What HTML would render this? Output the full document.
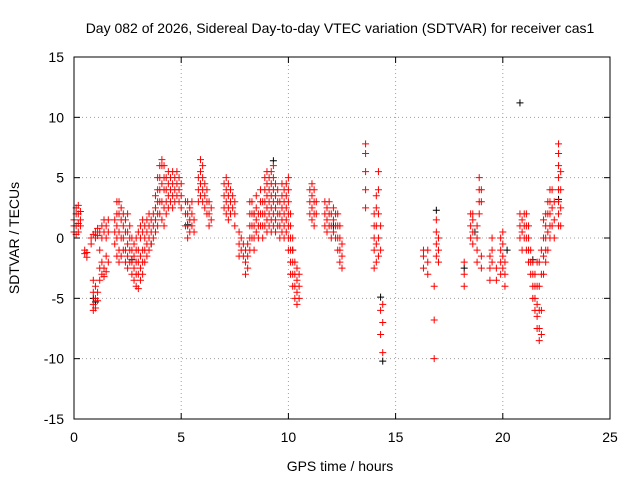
<!DOCTYPE html>
<html><head><meta charset="utf-8"><style>
body{margin:0;background:#fff;}
svg{display:block;font-family:"Liberation Sans",sans-serif;}
</style></head><body>
<svg id="chart" width="640" height="480" viewBox="0 0 640 480">
<rect width="640" height="480" fill="#fff"/>
<text x="340" y="33" font-size="14" text-anchor="middle">Day 082 of 2026, Sidereal Day-to-day VTEC variation (SDTVAR) for receiver cas1</text>
<g id="grid"></g>
<g id="ticks"></g>
<g id="black"></g>
<g id="red"></g>
<rect x="74" y="57" width="536" height="362" fill="none" stroke="#000" stroke-width="1"/>
<text x="340" y="471" font-size="14" text-anchor="middle">GPS time / hours</text>
<text x="0" y="0" font-size="14" text-anchor="middle" transform="translate(19,238) rotate(-90)">SDTVAR / TECUs</text>
</svg>
<script>
const xTicks=[0,5,10,15,20,25];
const yTicks=[15,10,5,0,-5,-10,-15];
const redHours=[0.0,0.1,0.2,0.3,0.5,0.6,0.8,0.9,1.0,1.1,1.2,1.3,1.4,1.5,1.6,1.9,2.0,2.1,2.2,2.3,2.4,2.5,2.6,2.7,2.8,2.9,3.0,3.1,3.2,3.3,3.4,3.5,3.6,3.7,3.8,3.9,4.0,4.1,4.2,4.3,4.4,4.5,4.6,4.7,4.8,4.9,5.0,5.2,5.3,5.4,5.5,5.6,5.8,5.9,6.0,6.1,6.2,6.3,6.4,7.0,7.1,7.2,7.3,7.4,7.5,7.7,7.8,7.9,8.0,8.1,8.2,8.3,8.4,8.5,8.6,8.7,8.8,8.9,9.0,9.1,9.2,9.3,9.4,9.5,9.6,9.7,9.8,9.9,10.0,10.1,10.2,10.3,10.4,10.5,11.0,11.1,11.2,11.3,11.7,11.8,11.9,12.0,12.1,12.2,12.3,12.4,12.5,13.6,14.0,14.1,14.2,14.3,14.4,16.3,16.5,16.8,16.9,17.0,18.2,18.5,18.6,18.8,18.9,19.0,19.4,19.5,19.7,19.9,20.0,20.1,20.8,20.9,21.0,21.1,21.2,21.3,21.4,21.5,21.6,21.7,21.8,21.9,22.0,22.1,22.2,22.3,22.4,22.6,22.7];
const redValues=[[0.5,1,1.5],[0.3,1,2,2.5],[0.5,1.2,2,2.7],[1,1.5,2.2],[-1,-1.3],[-1.2,-1.6],[-0.5,0],[-6,-5.5,-4.5,-3.5,0.3],[-5.8,-5,-4,0,0.5],[-5.2,-4.5,0.2,0.8],[-3.5,-2.5,-1,0.5],[-3,-2,0,1],[-3.2,-2.5,0.5,1.5],[-2.8,-1.5,0,1],[-2,0.5,1.5],[-0.5,0.5,1.5],[-1.5,0,1,2,3],[-2,-1,0.5,2,3],[-1.5,0,1.5,2.5],[-1,0,1,2],[-2,-1,0.5,1.5],[-2.5,-1.5,-0.5,0.5,2],[-2,-1,0,1],[-3,-2,-1,0],[-3.5,-2.5,-1.5,-0.5],[-4,-3,-2,-1,0],[-4.2,-3,-2,-1,0.5],[-3.5,-2.5,-1.5,0,1],[-3,-2,-1,0.5,1.5],[-2,-1,0,1],[-1.5,-0.5,0.5,1.5],[-1,0,1,2],[-0.5,0.5,1.5],[0,1,2],[0.5,1.5,2.5,3.5],[1,2,3,4,5],[2,3,4,5,6],[1.5,3,4.5,6,6.5],[1,2.5,4,5,6],[2,3,4,5],[2.5,3.5,4.5,5.5],[3,4,5],[2.5,3.5,4.5,5.5],[3,4,5],[3.5,4.5,5.5],[3,4,5],[2.5,3.5,4.5],[1,2,3],[0,1,2,3],[0.5,1.5,2.5],[1,2,3],[0.5,1.5],[3,4,5],[3.5,4.5,5.5,6.5],[3,4,5,6],[2.5,3.5,4.5],[2,3,4],[1,2,3],[1.5,2.5],[2.5,3.5,4.5],[2,3,4,5],[1.5,2.5,3.5,4.5],[2,3,4],[2.5,3.5],[1,2,3],[-1.5,-0.5,0.5],[-1,0],[-1.5,-0.5],[-3,-2,-1],[-2.5,-1.5,-0.5],[-1,0,1,2,3],[0,1,2,3],[-1,0,1,2],[0.5,1.5,2.5,3.5],[0,1,2],[1,2,3,4],[0,1,2,3],[1,2,3,4,5],[0.5,1.5,2.5,3.5,4.5,5.5],[1,2,3,4,5],[0.5,1.5,2.5,3.5,4.5,5.5],[1,2,3,4,5,6],[0.5,1.5,2.5,3.5,4.5],[1,2,3,4],[0,1,2,3],[0.5,1.5,2.5,3.5,4.5],[0,1,2,3,4],[0.5,1.5,2.5,3.5,4.5],[-1,0,1,2,3,4,5],[-3,-2,-1,0,1,2],[-4,-3,-2,-1,0],[-5,-4,-3,-2],[-5.5,-4.5,-3.5,-2.5],[-5,-4,-3],[2,3,4],[1.5,2.5,3.5,4.5],[1,2,3,4],[2,3],[1,2,3],[0.5,1.5,2.5],[1,2,3],[0,1,2],[0.5,1.5,2.5],[0,1,2],[-1,0,1,2],[-2,-1,0,1],[-2.5,-1.5,-0.5],[2.5,4,5.5,7,7.8],[-2.5,-1,0,1,2],[-2,-0.5,1,2.5,3.5],[-1.5,0,2,4,5.5],[-8,-6,-1,1],[-9.5,-7,-5.5],[-2.5,-1.5,-1],[-3,-2,-1],[-10,-6.8,-4],[-1.5,-0.5,0.5,1.5],[-2,-1,0],[-4,-3,-2],[0,1,2],[-0.5,0.5,1.5,2],[-2,-1,0,1],[2,3,4,5],[-2.5,-1.5,3,4],[-3.5,-2.5,-1.5],[-2,-1,0],[-3.5,-2.5],[-3,-2,-1,0],[-2.5,-1.5,-0.5,0.5],[-4,-3,-2],[0,1,2],[-1,0.5,1.5],[0,1,2],[-1,0,1,2],[-2,-1,0,1],[-3,-2,-1],[-5,-4,-3,-2],[-6,-5,-4,-3],[-7.5,-6.5,-5.5,-4,-2],[-8.5,-7.5,-6,-4,-2],[-8,-6,-3,-1],[-3,-1.5,0,1.5],[-2,-1,0,1,2],[-1,0.5,2,3],[0,1,2,3,4],[1,2.5,4],[0,1.5,3],[1,2,3,4,5,6,7,7.8],[1,2.5,4,5.5]];
const blackHours=[0.9,1.0,2.7,3.6,5.3,8.4,9.3,10.2,12.1,14.3,14.4,16.9,18.2,18.7,20.2,20.8,21.4,22.6];
const blackValues=[-5,-5.3,-1.8,-0.5,1.1,2,6.4,-1,1,-4.9,-10.2,2.3,-2.5,0.5,-1,11.2,-1.8,3.2];

const NS="http://www.w3.org/2000/svg";
const X0=74,X1=610,Y0=57,Y1=419;
function xs(v){return X0+(v-0)/25*(X1-X0);}
function ys(v){return Y1-(v+15)/30*(Y1-Y0);}
function mk(tag,attrs,parent){const e=document.createElementNS(NS,tag);for(const k in attrs)e.setAttribute(k,attrs[k]);parent.appendChild(e);return e;}
const grid=document.getElementById('grid'),ticks=document.getElementById('ticks');
xTicks.forEach(t=>{
  const x=xs(t);
  if(t>0&&t<25){const g=mk('line',{x1:x,x2:x,y1:Y0,y2:Y1,stroke:'#a0a0a0','stroke-dasharray':'1,3'},grid);
  
  }
  mk('line',{x1:x,x2:x,y1:Y1,y2:Y1-6,stroke:'#000'},ticks);
  mk('line',{x1:x,x2:x,y1:Y0,y2:Y0+6,stroke:'#000'},ticks);
  const l=mk('text',{x:x,y:Y1+23,'font-size':14,'text-anchor':'middle'},ticks);
  l.textContent=t;
  
  
});
yTicks.forEach(t=>{
  const y=ys(t);
  if(t>-15&&t<15){const g=mk('line',{x1:X0,x2:X1,y1:y,y2:y,stroke:'#a0a0a0','stroke-dasharray':'1,3'},grid);
  
  }
  mk('line',{x1:X0,x2:X0+6,y1:y,y2:y,stroke:'#000'},ticks);
  mk('line',{x1:X1,x2:X1-6,y1:y,y2:y,stroke:'#000'},ticks);
  const l=mk('text',{x:X0-10,y:y+5,'font-size':14,'text-anchor':'end'},ticks);
  l.textContent=t;
  
  
});
function plus(g,t,v,col){
  const x=xs(t),y=ys(v);
  const p=mk('path',{d:`M${x-3.5},${y}H${x+3.5}M${x},${y-3.5}V${y+3.5}`,stroke:col,'stroke-width':1,fill:'none'},g);
  
  
}
const bg=document.getElementById('black');
blackHours.forEach((t,i)=>plus(bg,t,blackValues[i],'#000'));
const rg=document.getElementById('red');
redHours.forEach((t,i)=>redValues[i].forEach(v=>plus(rg,t,v,'#ff0000')));
</script>
</body></html>
